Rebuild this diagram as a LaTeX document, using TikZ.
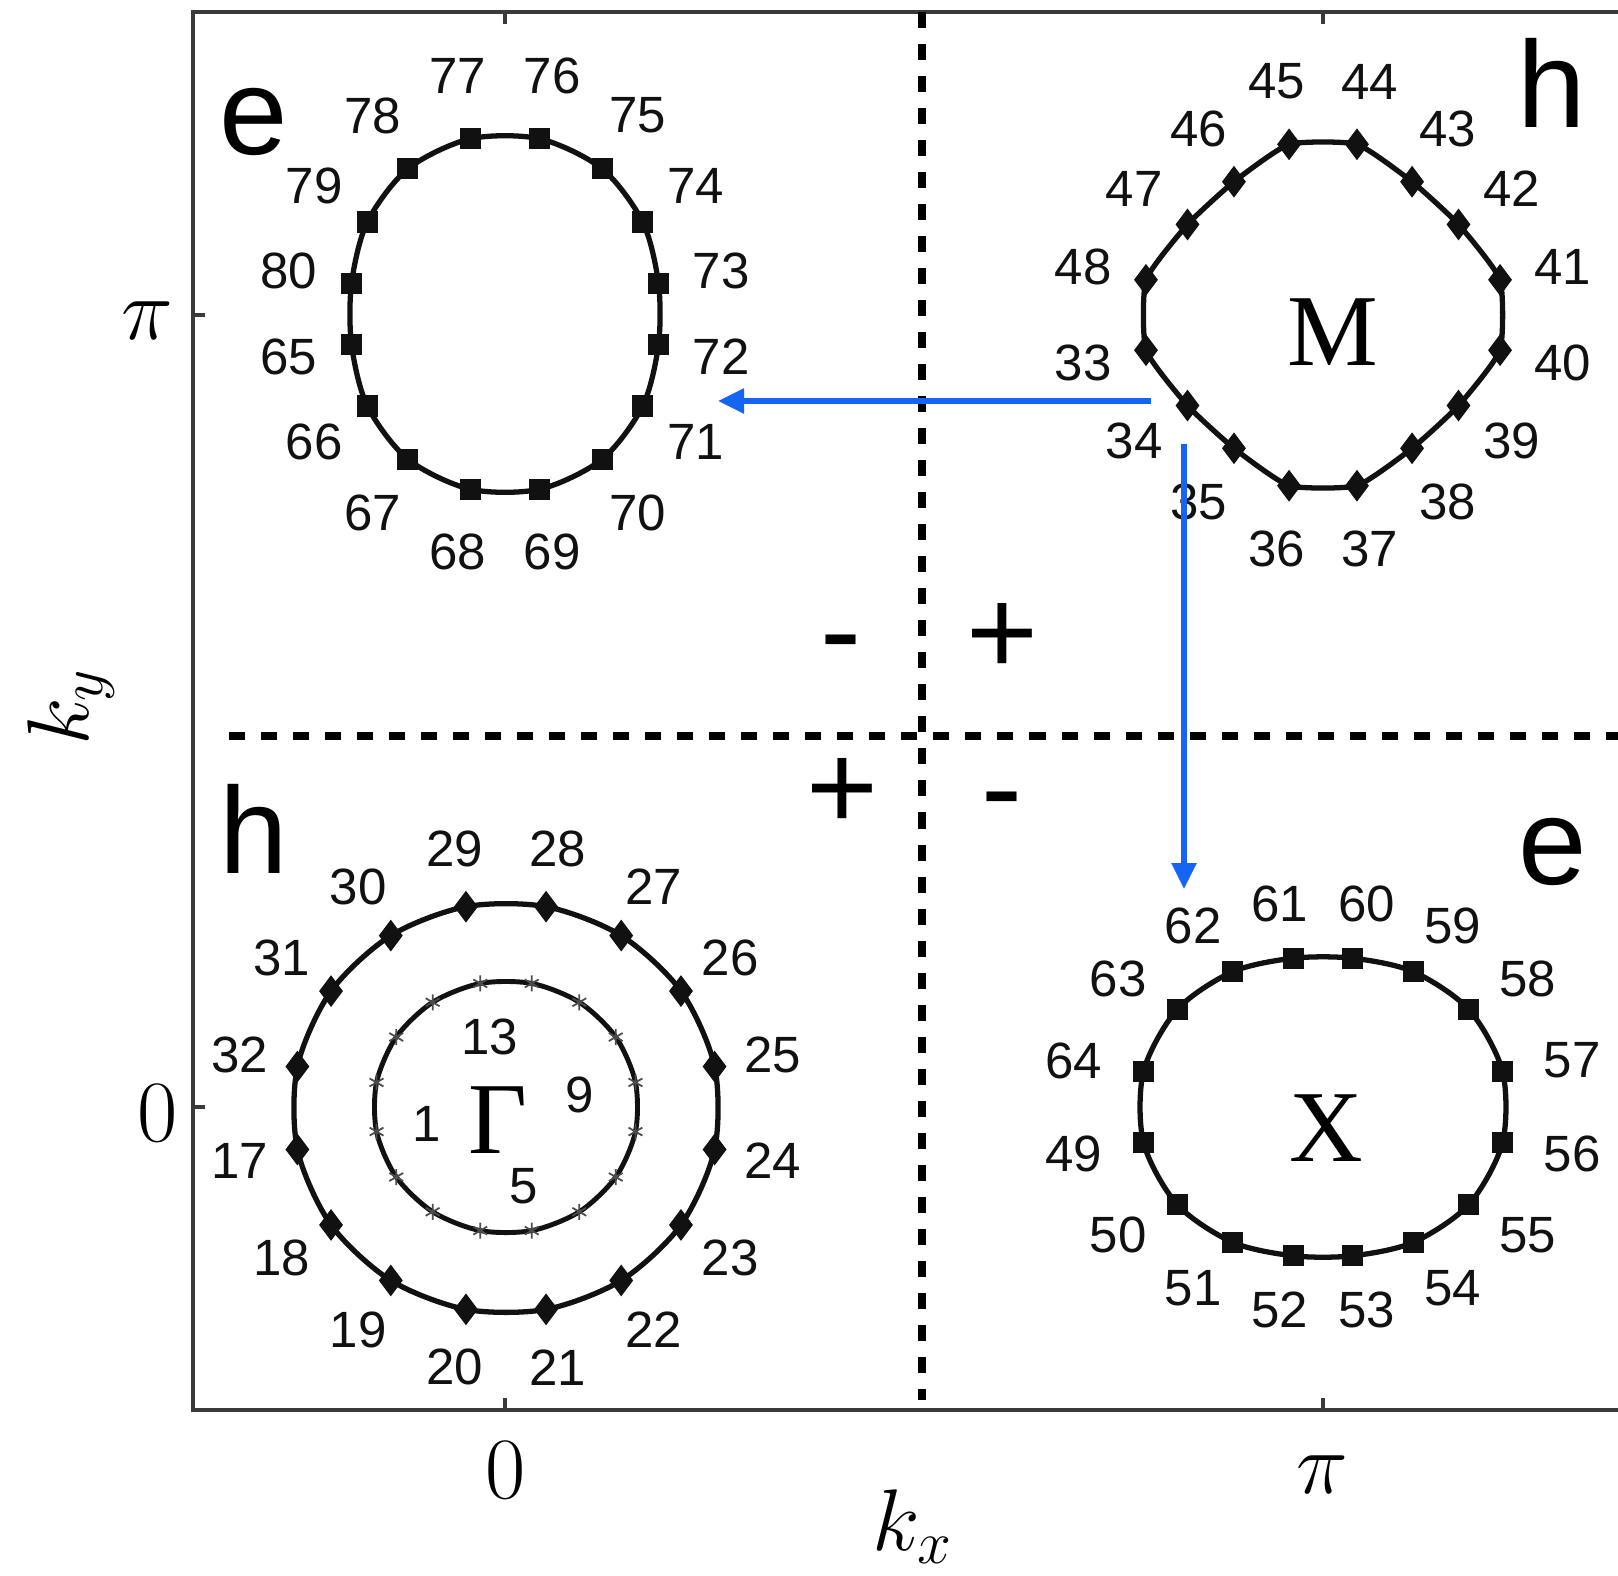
\documentclass[tikz,border=0pt]{standalone}
\usepackage{fontspec}
\usepackage{tikz}
\usetikzlibrary{arrows.meta,plotmarks}
\newfontfamily\helvlike{Liberation Sans}
\newfontfamily\timeslike{Liberation Serif}
\definecolor{ink}{HTML}{111111}
\definecolor{frameink}{HTML}{3A3A3A}
\definecolor{nestblue}{HTML}{1565F2}
\newcommand{\fspocket}[9]{%
  \draw[pocketline] plot[domain=0:15, samples=16, variable=\k, #6]
    ({#1+pr(191.25+22.5*\k,#3,#4,#5)*cos(191.25+22.5*\k)},
     {#2-pr(191.25+22.5*\k,#3,#4,#5)*sin(191.25+22.5*\k)});
  \foreach \k in {0,...,15}{
    \pgfmathsetmacro\ang{191.25+22.5*\k}
    \pgfmathsetmacro\rr{pr(\ang,#3,#4,#5)}
    \pgfmathtruncatemacro\num{#7+\k}
    \node[ptnum] (p\num) at ({#1+(\rr+#8)*cos(\ang)},{#2-(\rr+#9)*sin(\ang)}) {\num};
  }}
\tikzset{
  pocketline/.style={ink, line width=1.5pt},
  ptnum/.style={ink, font=\helvlike\fontsize{14.5}{16}\selectfont, inner sep=0pt},
  carrier/.style={font=\helvlike\fontsize{35}{40}\selectfont, inner sep=0pt},
  signmark/.style={font=\helvlike\fontsize{35}{40}\selectfont, inner sep=0pt},
  hspoint/.style={font=\timeslike\fontsize{29}{32}\selectfont, inner sep=0pt},
  ticklab/.style={font=\fontsize{26}{30}\selectfont, inner sep=0pt},
  axlab/.style={font=\fontsize{23}{27}\selectfont, inner sep=0pt},
  zoneline/.style={line width=2.1pt, dash pattern=on 0.16cm off 0.16cm},
  nesting/.style={nestblue, line width=1.6pt, -{Triangle[length=0.26cm,width=0.24cm]}},
  frameline/.style={frameink, line width=0.9pt},
  sqmark/.style={mark=square*, mark size=0.1cm, mark options={line width=0.3pt}},
  dmmark/.style={mark=diamond*, mark size=0.15cm, mark options={line width=0.3pt}},
}
\begin{document}
\begin{tikzpicture}[x=0.01cm, y=-0.01cm,
  declare function={pr(\t,\a,\b,\s)=\a/sqrt((cos(\t))^2+(\a/\b)^2*(sin(\t))^2)+\s*(sin(2*\t))^2;}]
\fill[white] (0,0) rectangle (1618,1575);
\useasboundingbox (0,0) rectangle (1618,1575);
\draw[frameline] (1618,12) -- (193,12) -- (193,1410) -- (1618,1410);
\foreach \tx in {505,1323}{
  \draw[frameline] (\tx,12) -- (\tx,24);
  \draw[frameline] (\tx,1410) -- (\tx,1398);}
\foreach \ty in {315,1107}
  \draw[frameline] (193,\ty) -- (205,\ty);
\node[ticklab, font=\fontsize{23}{26}\selectfont] (ypi) at (147,321) {$\pi$};
\node[ticklab] (yzero) at (158,1113) {$0$};
\node[ticklab] (xzero) at (506,1470) {$0$};
\node[ticklab, font=\fontsize{23}{26}\selectfont] (xpi) at (1322,1475) {$\pi$};
\node[axlab] (kx) at (913,1527) {$k_x$};
\node[axlab, rotate=90] (ky) at (71,707) {$k_y$};
\draw[zoneline] (922,12) -- (922,1400);
\draw[zoneline] (229,736) -- (1618,736);
\fspocket{505}{314}{155}{179}{5}{smooth cycle, sqmark}{65}{64}{64}
\fspocket{1323}{315}{184}{177}{-22}{smooth cycle, tension=0.3, dmmark}{33}{64}{64}
\fspocket{1323}{1107}{184}{150}{5}{smooth cycle, sqmark}{49}{71}{55}
\fspocket{506}{1108}{213}{205}{0}{smooth cycle, dmmark}{17}{59}{59}
\draw[pocketline, line width=1.4pt] plot[smooth cycle, domain=0:15, samples=16, variable=\k,
  mark=asterisk, mark size=0.08cm, mark options={line width=0.5pt, color=black!70}]
  ({506+132*cos(191.25+22.5*\k)}, {1107-126*sin(191.25+22.5*\k)});
\node[ptnum] (p1) at (427,1124) {1};
\node[ptnum] (p5) at (524,1186) {5};
\node[ptnum] (p9) at (580,1095) {9};
\node[ptnum] (p13) at (490,1037) {13};
\node[hspoint] (Mpt) at (1333,332) {M};
\node[hspoint] (Xpt) at (1326,1128) {X};
\node[hspoint] (Gpt) at (498,1120) {Γ};
\node[carrier] (eTL) at (254,122) {e};
\node[carrier] (hTR) at (1552,83) {h};
\node[carrier] (hBL) at (254,829) {h};
\node[carrier] (eBR) at (1553,852) {e};
\node[signmark, anchor=base] (sTL) at (841,672) {-};
\node[signmark] (sTR) at (1002,639) {+};
\node[signmark] (sBL) at (842,794) {+};
\node[signmark, anchor=base] (sBR) at (1002,829) {-};
\coordinate (fromM) at (1151,401);
\coordinate (toE) at (718,401);
\coordinate (fromMv) at (1184,444);
\coordinate (toX) at (1184,889);
\draw[nesting] (fromM) -- (toE);
\draw[nesting] (fromMv) -- (toX);
\end{tikzpicture}
\end{document}
